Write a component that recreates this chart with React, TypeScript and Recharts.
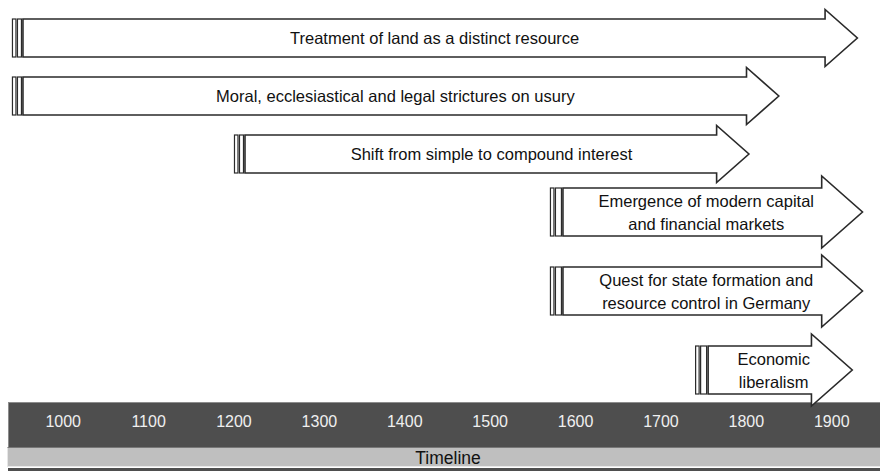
import React from 'react';
import { ComposedChart, XAxis, YAxis, ReferenceArea, Scatter } from 'recharts';

const labels = [
  'Treatment of land as a distinct resource',
  'Moral, ecclesiastical and legal strictures on usury',
  'Shift from simple to compound interest',
  'Emergence of modern capital\nand financial markets',
  'Quest for state formation and\nresource control in Germany',
  'Economic\nliberalism',
];
const startYears = [940, 940, 1200, 1570, 1570, 1740];
const endYears = [1930, 1838, 1803, 1936, 1936, 1924];
const tickYears = [1000, 1100, 1200, 1300, 1400, 1500, 1600, 1700, 1800, 1900];

const W = 880;
const H = 471;
const PLOT_H = 402;
const FONT = '"Liberation Sans", Arial, Helvetica, sans-serif';

// lane layout: two-line rows get taller arrows and more room
const BODY_H: Record<number, number> = { 1: 38, 2: 48 };
const SLOT: Record<number, number> = { 1: 58, 2: 79 };
const FIRST_CENTER = 38;

let laneCenter = FIRST_CENTER;
const rows = labels.map((label, i) => {
  const lines = label.split('\n');
  const n = lines.length;
  const row = {
    lines,
    start: startYears[i],
    end: endYears[i],
    y1: laneCenter - BODY_H[n] / 2,
    y2: laneCenter + BODY_H[n] / 2,
  };
  laneCenter += SLOT[n];
  return row;
});

const Arrow = ({ x, y, width, height, lines }: any) => {
  const cy = y + height / 2;
  const tip = x + width;
  const headLen = height * 0.85;
  const ext = height * 0.25;
  const base = tip - headLen;
  const bodyX = x + Math.round(height * 0.28);
  const top = y;
  const bot = y + height;
  const d = `M${bodyX},${top}L${base},${top}L${base},${top - ext}L${tip},${cy}L${base},${bot + ext}L${base},${bot}L${bodyX},${bot}Z`;
  const midX = x + width / 2;
  return (
    <g>
      <rect x={x + 0.5} y={top} width={3.5} height={height} fill="#fff" stroke="#2a2a2a" strokeWidth={1.2} />
      <rect x={x + 5.5} y={top} width={bodyX - x - 7} height={height} fill="#fff" stroke="#2a2a2a" strokeWidth={1.2} />
      <path d={d} fill="#fff" stroke="#2a2a2a" strokeWidth={1.6} strokeLinejoin="miter" />
      {lines.map((line: string, i: number) => (
        <text
          key={i}
          x={midX}
          y={cy + (i - (lines.length - 1) / 2) * 23}
          textAnchor="middle"
          dominantBaseline="central"
          fontSize={16.5}
          fontFamily={FONT}
          fill="#111"
        >
          {line}
        </text>
      ))}
    </g>
  );
};

const YearTick = ({ x, y, payload }: any) => (
  <text
    x={x}
    y={y + 19}
    textAnchor="middle"
    dominantBaseline="central"
    fill="#f0f0f0"
    fontSize={16}
    fontFamily={FONT}
  >
    {payload.value}
  </text>
);

export default function App() {
  return (
    <div style={{ position: 'fixed', left: 0, top: 0, width: W, height: H, background: '#fff', fontFamily: FONT }}>
      <div
        style={{
          position: 'absolute', left: 8, top: 402, width: 872, height: 45,
          background: '#4e4e4e', borderTop: '1px solid #8c8c8c', borderLeft: '1px solid #8c8c8c',
          boxSizing: 'border-box',
        }}
      />
      <div
        style={{
          position: 'absolute', left: 7, top: 447, width: 873, height: 20,
          background: '#bfbfbf', borderTop: '1px solid #777', borderLeft: '1px solid #e6e6e6',
          borderBottom: '1px solid #e8e8e8', boxSizing: 'border-box',
        }}
      />
      <div style={{ position: 'absolute', left: 8, top: 468, width: 872, height: 3, background: '#4e4e4e' }} />
      <div style={{ position: 'absolute', left: 0, top: 0 }}>
        <ComposedChart
          width={W}
          height={H}
          data={rows}
          margin={{ top: 0, right: 0, bottom: 3, left: 0 }}
        >
          <XAxis
            type="number"
            dataKey="start"
            scale="linear"
            domain={[926, 1956.5]}
            allowDataOverflow
            ticks={tickYears}
            interval={0}
            height={66}
            tickSize={0}
            tickMargin={0}
            axisLine={false}
            tickLine={false}
            tick={<YearTick />}
            label={{
              value: 'Timeline',
              position: 'insideBottom',
              offset: 4,
              dx: 8,
              fill: '#111',
              fontSize: 17.5,
              fontFamily: FONT,
            }}
          />
          <YAxis type="number" dataKey="y1" domain={[0, PLOT_H]} reversed hide allowDataOverflow />
          <Scatter dataKey="y1" isAnimationActive={false} shape={() => <g />} />
          {rows.map((r, i) => (
            <ReferenceArea
              key={i}
              x1={r.start}
              x2={r.end}
              y1={r.y1}
              y2={r.y2}
              ifOverflow="visible"
              shape={(p: any) => <Arrow {...p} lines={r.lines} />}
            />
          ))}
        </ComposedChart>
      </div>
    </div>
  );
}
